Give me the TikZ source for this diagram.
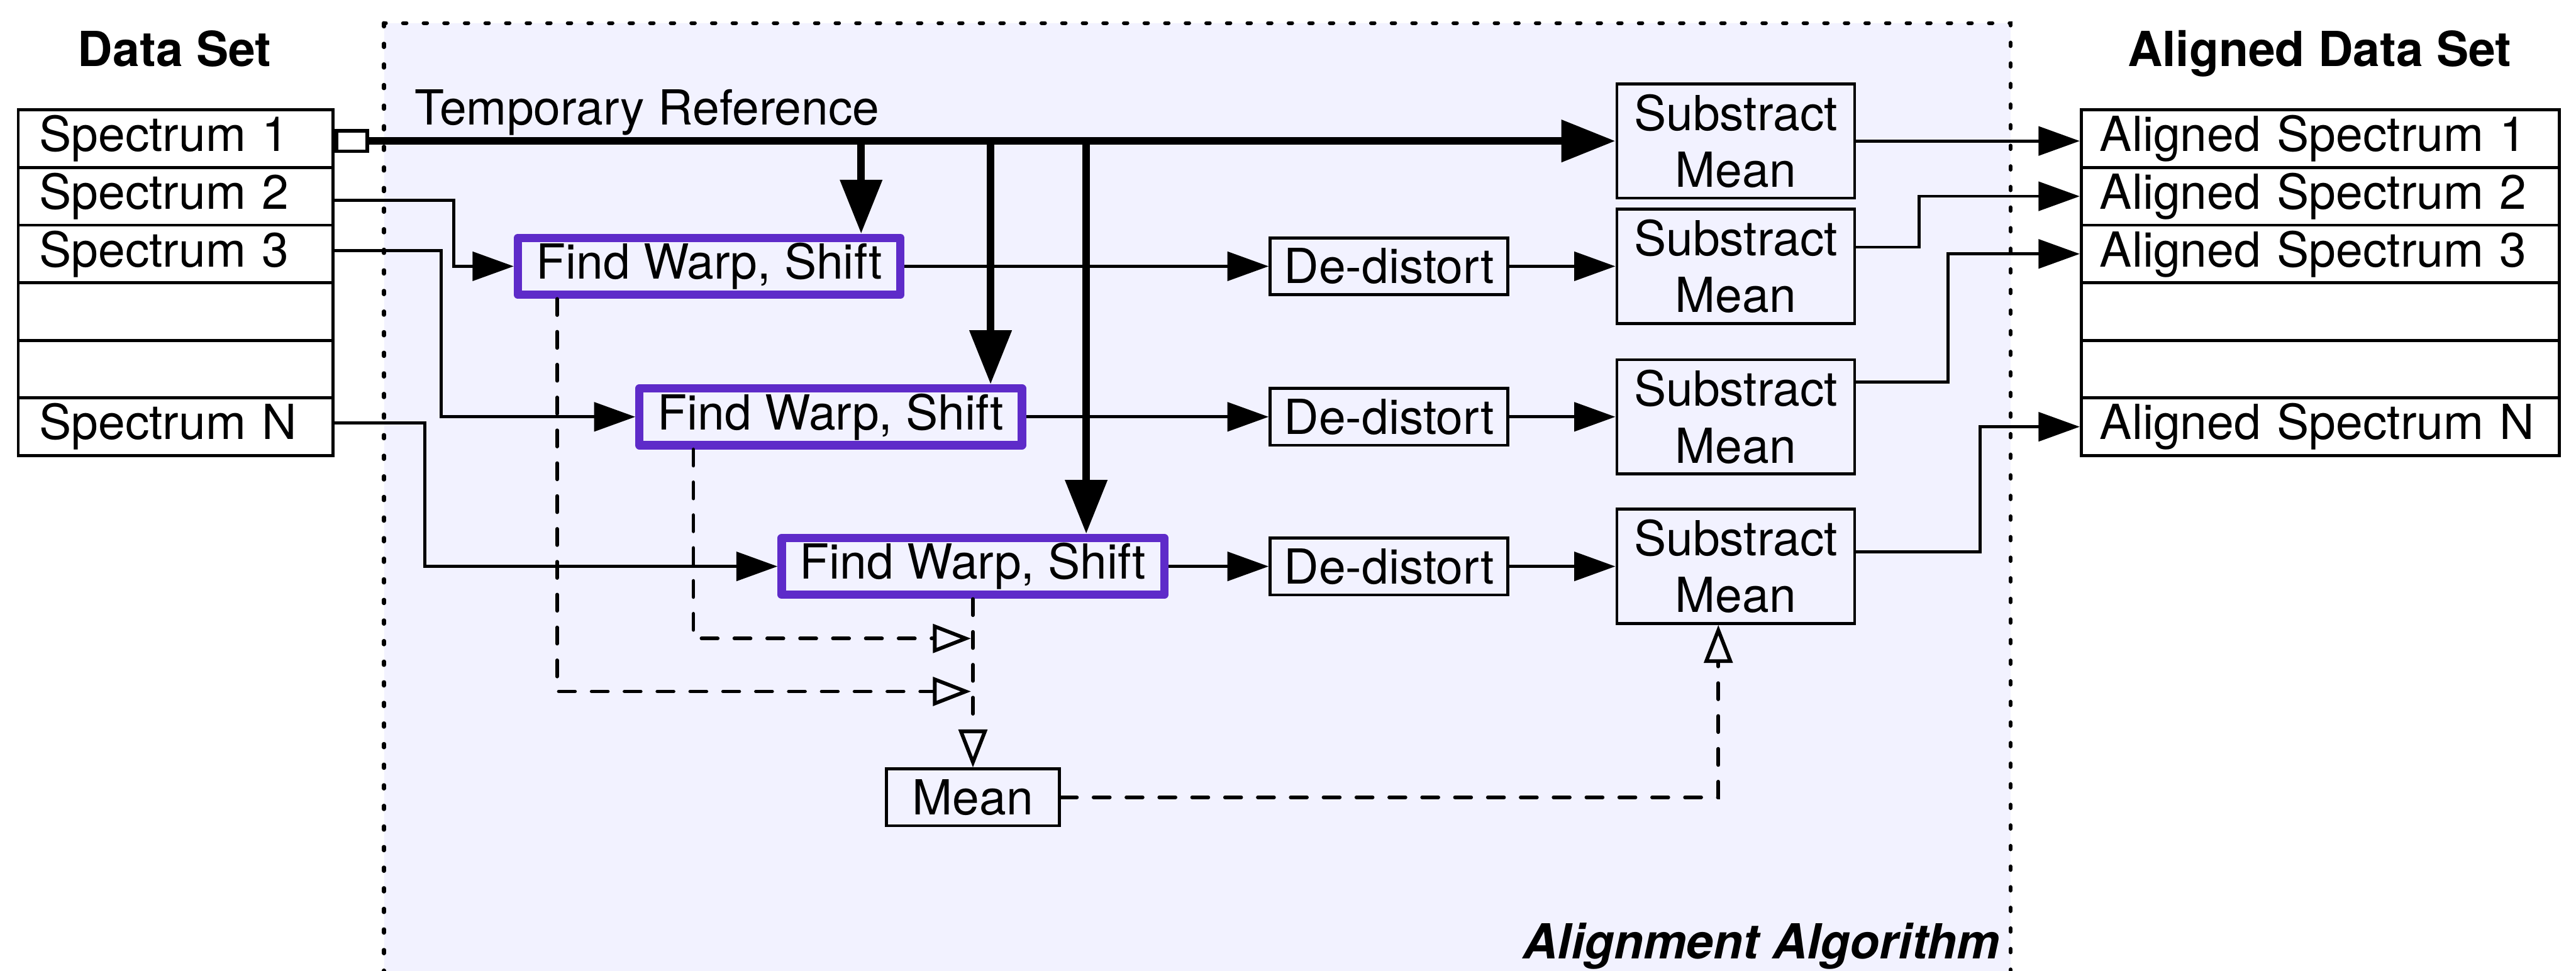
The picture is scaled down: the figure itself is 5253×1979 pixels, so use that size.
\documentclass[tikz,border=0pt]{standalone}
\usepackage{fontspec}
\setmainfont{TeX Gyre Heros}
\usetikzlibrary{arrows.meta}
\definecolor{fwpurple}{RGB}{94,43,201}
\definecolor{algbg}{RGB}{242,242,255}
\newcommand{\diafont}{\fontsize{19.7}{23.2}\selectfont}

\begin{document}
\begin{tikzpicture}[x=0.2pt, y=-0.2pt,
  every node/.style={font=\diafont},
  inrow/.style={draw, line width=1.2pt, fill=white, minimum height=23.5pt,
    inner xsep=8.6pt, inner ysep=0pt, text width=111.2pt, align=left},
  outrow/.style={inrow, inner xsep=7.6pt, text width=179.8pt},
  fwbox/.style={draw=fwpurple, line width=3.4pt, line join=round,
    minimum width=156pt, minimum height=23.2pt, inner sep=0pt},
  opbox/.style={draw, line width=1.2pt, minimum width=97pt,
    minimum height=23.2pt, inner sep=0pt, align=center},
  smbox/.style={opbox, minimum height=46.6pt},
  flow/.style={line width=1.2pt, -{Triangle[length=16.8pt,width=11.8pt]}},
  refline/.style={line width=3.1pt, -{Triangle[length=22pt,width=16.6pt]}},
  meanflow/.style={line width=1.5pt, dash pattern=on 6.6pt off 6.8pt,
    line cap=round, -{Triangle[open,length=15.5pt,width=11.6pt]}},
  header/.style={font=\diafont\bfseries}
]
\useasboundingbox (0,0) rectangle (5253,1979);
\clip (0,0) rectangle (5253,1979);

% algorithm frame
\draw[line width=1.6pt, dash pattern=on 1.4pt off 7pt, line cap=round,
      fill=algbg] (783,47) rectangle (4100,2150);
\node[font=\diafont\bfseries\itshape, anchor=base east] (algtitle)
  at (4096,1955) {Alignment Algorithm};

% input data set
\node[header, anchor=base] (dshead) at (356,135) {Data Set};
\node[inrow] (d1) at (358,282.75) {Spectrum 1};
\node[inrow] (d2) at (358,400.25) {Spectrum 2};
\node[inrow] (d3) at (358,517.75) {Spectrum 3};
\node[inrow] (d4) at (358,635.25) {};
\node[inrow] (d5) at (358,752.75) {};
\node[inrow] (d6) at (358,870.25) {Spectrum N};

% aligned data set
\node[header, anchor=base] (adhead) at (4730,135) {Aligned Data Set};
\node[outrow] (a1) at (4731.5,282.75) {Aligned Spectrum 1};
\node[outrow] (a2) at (4731.5,400.25) {Aligned Spectrum 2};
\node[outrow] (a3) at (4731.5,517.75) {Aligned Spectrum 3};
\node[outrow] (a4) at (4731.5,635.25) {};
\node[outrow] (a5) at (4731.5,752.75) {};
\node[outrow] (a6) at (4731.5,870.25) {Aligned Spectrum N};

% processing blocks
\node[fwbox] (fw1) at (1446,543) {Find Warp, Shift};
\node[fwbox] (fw2) at (1694,850) {Find Warp, Shift};
\node[fwbox] (fw3) at (1984,1155) {Find Warp, Shift};
\node[opbox] (dd1) at (2832.5,543) {De-distort};
\node[opbox] (dd2) at (2832.5,850) {De-distort};
\node[opbox] (dd3) at (2832.5,1155) {De-distort};
\node[smbox] (sm1) at (3539.5,287.5) {Substract\\Mean};
\node[smbox] (sm2) at (3539.5,543) {Substract\\Mean};
\node[smbox] (sm3) at (3539.5,850) {Substract\\Mean};
\node[smbox] (sm4) at (3539.5,1155) {Substract\\Mean};
\node[opbox, minimum width=70.4pt] (mean) at (1984,1626) {Mean};

% temporary reference
\node[draw, fill=white, line width=1.4pt, minimum width=12.6pt,
      minimum height=8.4pt, inner sep=0pt] (tail) at (717.5,287.5) {};
\node[anchor=base west] (reflabel) at (828,255) {Temporary Reference};
\draw[refline] (tail.east) -- (sm1.west);
\coordinate (br1) at (1756,287.5);
\coordinate (br2) at (2020,287.5);
\coordinate (br3) at (2215,287.5);
\draw[refline] (br1) -- (br1 |- fw1.north);
\draw[refline] (br2) -- (br2 |- fw2.north);
\draw[refline] (br3) -- (br3 |- fw3.north);

% spectra into the warp finders
\draw[flow] ([yshift=-1.6pt]d2.east) -- ++(243,0) |- (fw1.west);
\draw[flow] ([yshift=1.4pt]d3.east) -- ++(218,0) |- (fw2.west);
\draw[flow] ([yshift=1.6pt]d6.east) -- ++(184,0) |- (fw3.west);

% warp -> de-distort -> substract mean
\draw[flow] (fw1.east) -- (dd1.west);
\draw[flow] (fw2.east) -- (dd2.west);
\draw[flow] (fw3.east) -- (dd3.west);
\draw[flow] (dd1.east) -- (sm2.west);
\draw[flow] (dd2.east) -- (sm3.west);
\draw[flow] (dd3.east) -- (sm4.west);

% outputs
\draw[flow] (sm1.east) -- (sm1.east -| a1.west);
\draw[flow] ([yshift=7.8pt]sm2.east) -- ++(128,0) |- (a2.west);
\draw[flow] ([yshift=14.2pt]sm3.east) -- ++(187,0) |- (a3.west);
\draw[flow] ([yshift=6pt]sm4.east) -- ++(253,0) |- (a6.west);

% warp estimates collected for the mean
\coordinate (x1) at (1136,0);
\coordinate (x2) at (1414,0);
\coordinate (x3) at (3504,0);
\coordinate (j1) at (1980,1302);
\coordinate (j2) at (1980,1410);
\draw[meanflow] (x2 |- fw2.south) |- (j1);
\draw[meanflow] (x1 |- fw1.south) |- (j2);
\draw[meanflow] (fw3.south) -- (mean.north);
\draw[meanflow] (mean.east) -| (x3 |- sm4.south);
\end{tikzpicture}
\end{document}
